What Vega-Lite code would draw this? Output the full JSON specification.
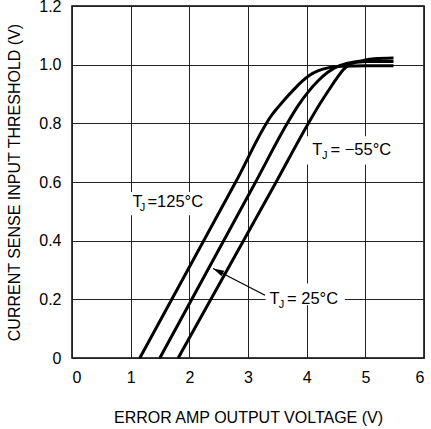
{
  "$schema": "https://vega.github.io/schema/vega-lite/v6.json",
  "width": 352,
  "height": 352,
  "autosize": "none",
  "padding": {"left": 72, "top": 6, "right": 7, "bottom": 71},
  "background": "white",
  "config": {
    "font": "Liberation Sans",
    "view": {"stroke": "black", "strokeWidth": 1.5},
    "axis": {
      "grid": true,
      "gridColor": "#222222",
      "gridWidth": 1,
      "gridOpacity": 1,
      "ticks": false,
      "domain": false,
      "labelFontSize": 16,
      "labelColor": "black",
      "titleFontSize": 16,
      "titleFontWeight": "normal",
      "titleColor": "black"
    }
  },
  "datasets": {
    "curves": [
      {"s": "125", "x": 1.155, "y": 0},
      {"s": "125", "x": 2.79, "y": 0.6},
      {"s": "125", "x": 3.42, "y": 0.832},
      {"s": "125", "x": 3.5, "y": 0.852},
      {"s": "125", "x": 3.64, "y": 0.885},
      {"s": "125", "x": 3.78, "y": 0.915},
      {"s": "125", "x": 3.92, "y": 0.943},
      {"s": "125", "x": 4.05, "y": 0.964},
      {"s": "125", "x": 4.2, "y": 0.98},
      {"s": "125", "x": 4.38, "y": 0.99},
      {"s": "125", "x": 4.6, "y": 0.995},
      {"s": "125", "x": 5.0, "y": 0.996},
      {"s": "125", "x": 5.48, "y": 0.996},
      {"s": "25", "x": 1.497, "y": 0},
      {"s": "25", "x": 3.13, "y": 0.6},
      {"s": "25", "x": 3.67, "y": 0.8},
      {"s": "25", "x": 3.86, "y": 0.862},
      {"s": "25", "x": 4.03, "y": 0.908},
      {"s": "25", "x": 4.2, "y": 0.946},
      {"s": "25", "x": 4.36, "y": 0.974},
      {"s": "25", "x": 4.52, "y": 0.993},
      {"s": "25", "x": 4.68, "y": 1.004},
      {"s": "25", "x": 4.9, "y": 1.012},
      {"s": "25", "x": 5.15, "y": 1.02},
      {"s": "25", "x": 5.48, "y": 1.023},
      {"s": "-55", "x": 1.81, "y": 0},
      {"s": "-55", "x": 3.48, "y": 0.6},
      {"s": "-55", "x": 4.03, "y": 0.8},
      {"s": "-55", "x": 4.2, "y": 0.858},
      {"s": "-55", "x": 4.36, "y": 0.908},
      {"s": "-55", "x": 4.5, "y": 0.95},
      {"s": "-55", "x": 4.62, "y": 0.982},
      {"s": "-55", "x": 4.72, "y": 1.0},
      {"s": "-55", "x": 4.85, "y": 1.008},
      {"s": "-55", "x": 5.05, "y": 1.011},
      {"s": "-55", "x": 5.48, "y": 1.011}
    ],
    "boxes": [
      {"x": 0.9, "x2": 2.12, "y": 0.487, "y2": 0.566},
      {"x": 3.3, "x2": 4.65, "y": 0.18, "y2": 0.254},
      {"x": 3.95, "x2": 5.45, "y": 0.66, "y2": 0.756}
    ],
    "arrow": [
      {"x": 3.29, "y": 0.214, "x2": 2.405, "y2": 0.305}
    ],
    "labels": [
      {"x": 1.03, "y": 0.532, "t": "T"},
      {"x": 1.285, "y": 0.532, "t": "=125°C"},
      {"x": 3.367, "y": 0.2, "t": "T"},
      {"x": 3.665, "y": 0.2, "t": "= 25°C"},
      {"x": 4.097, "y": 0.709, "t": "T"},
      {"x": 4.405, "y": 0.709, "t": "= −55°C"}
    ],
    "subs": [
      {"x": 1.155, "y": 0.532, "t": "J"},
      {"x": 3.523, "y": 0.2, "t": "J"},
      {"x": 4.263, "y": 0.709, "t": "J"}
    ]
  },
  "layer": [
    {
      "data": {"name": "boxes"},
      "mark": {"type": "rect", "fill": "white", "stroke": null},
      "encoding": {
        "x": {
          "field": "x", "type": "quantitative",
          "scale": {"domain": [0, 6], "nice": false, "zero": false},
          "axis": {
            "values": [0, 1, 2, 3, 4, 5, 6],
            "format": "d",
            "labelPadding": 11,
            "title": "ERROR AMP OUTPUT VOLTAGE (V)",
            "titlePadding": 24
          }
        },
        "x2": {"field": "x2"},
        "y": {
          "field": "y", "type": "quantitative",
          "scale": {"domain": [0, 1.2], "nice": false, "zero": false},
          "axis": {
            "values": [0, 0.2, 0.4, 0.6, 0.8, 1.0, 1.2],
            "labelExpr": "datum.value == 0 ? '0' : format(datum.value, '.1f')",
            "labelPadding": 11,
            "title": "CURRENT SENSE INPUT THRESHOLD (V)",
            "titlePadding": 16,
            "encode": {"labels": {"update": {"dy": {"signal": "datum.value >= 1.19 ? 2 : 0"}}}}
          }
        },
        "y2": {"field": "y2"}
      }
    },
    {
      "data": {"name": "curves"},
      "mark": {"type": "line", "stroke": "black", "strokeWidth": 3, "interpolate": "monotone"},
      "encoding": {
        "x": {"field": "x", "type": "quantitative"},
        "y": {"field": "y", "type": "quantitative"},
        "detail": {"field": "s"}
      }
    },
    {
      "data": {"name": "arrow"},
      "mark": {"type": "rule", "stroke": "black", "strokeWidth": 1.3},
      "encoding": {
        "x": {"field": "x", "type": "quantitative"},
        "y": {"field": "y", "type": "quantitative"},
        "x2": {"field": "x2"},
        "y2": {"field": "y2"}
      }
    },
    {
      "data": {"name": "arrow"},
      "mark": {"type": "point", "shape": "M0,0L-0.6,2.2L0.6,2.2Z", "filled": true, "fill": "black", "stroke": null, "size": 100, "angle": 297, "opacity": 1},
      "encoding": {
        "x": {"field": "x2", "type": "quantitative"},
        "y": {"field": "y2", "type": "quantitative"}
      }
    },
    {
      "data": {"name": "labels"},
      "mark": {"type": "text", "align": "left", "baseline": "middle", "fontSize": 16.5, "fill": "black"},
      "encoding": {
        "x": {"field": "x", "type": "quantitative"},
        "y": {"field": "y", "type": "quantitative"},
        "text": {"field": "t"}
      }
    },
    {
      "data": {"name": "subs"},
      "mark": {"type": "text", "align": "left", "baseline": "middle", "fontSize": 11, "dy": 6, "fill": "black"},
      "encoding": {
        "x": {"field": "x", "type": "quantitative"},
        "y": {"field": "y", "type": "quantitative"},
        "text": {"field": "t"}
      }
    }
  ]
}
